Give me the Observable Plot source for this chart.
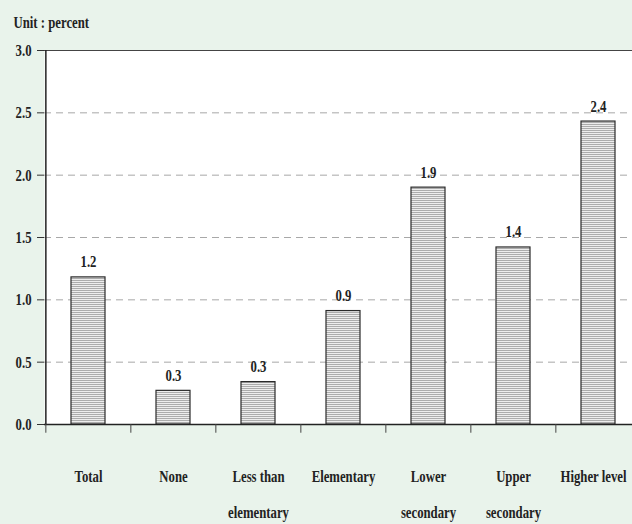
<!DOCTYPE html>
<html>
<head>
<meta charset="utf-8">
<script src="https://cdn.jsdelivr.net/npm/d3@7"></script>
<script src="https://cdn.jsdelivr.net/npm/@observablehq/plot@0.6"></script>
<style>
  html, body { margin: 0; padding: 0; background: #e9f3eb; }
  #chart { width: 632px; height: 524px; overflow: hidden; }
</style>
</head>
<body>
<div id="chart"></div>
<script>
const categories = ["Total", "None", "Less than elementary", "Elementary", "Lower secondary", "Upper secondary", "Higher level"];
const line1 = ["Total", "None", "Less than", "Elementary", "Lower", "Upper", "Higher level"];
const line2 = ["", "", "elementary", "", "secondary", "secondary", ""];
const values = [1.18, 0.27, 0.34, 0.91, 1.90, 1.42, 2.43];
const valueLabels = ["1.2", "0.3", "0.3", "0.9", "1.9", "1.4", "2.4"];
const yTicks = [0, 0.5, 1.0, 1.5, 2.0, 2.5, 3.0];
const gridTicks = [0.5, 1.0, 1.5, 2.0, 2.5];
const titleText = "Unit : percent";

const data = categories.map((c, i) => ({cat: c, value: values[i], label: valueLabels[i], l1: line1[i], l2: line2[i], last: i === categories.length - 1}));

const W = 632, H = 524, ML = 44, MT = 50, MB = 100;
const rangeEnd = 641;
const step = (rangeEnd - ML) / categories.length;

const chart = Plot.plot({
  width: W,
  height: H,
  marginLeft: ML,
  marginRight: 0,
  marginTop: MT,
  marginBottom: MB,
  style: {fontFamily: "Liberation Serif, Times New Roman, serif", fontSize: "17px", fontWeight: "bold", background: "#e9f3eb", color: "#222", overflow: "visible"},
  x: {domain: categories, range: [ML, rangeEnd], paddingInner: 0.6, paddingOuter: 0.3, axis: null},
  y: {domain: [0, 3], range: [H - MB, MT]},
  marks: [
    Plot.frame({fill: "white", stroke: "none"}),
    Plot.ruleY(gridTicks, {stroke: "#a8a8a8", strokeDasharray: "7,5", strokeWidth: 1}),
    Plot.barY(data, {x: "cat", y: "value", fill: "url(#hatch)", stroke: "#2a2a2a", strokeWidth: 1.2}),
    Plot.text(data, {x: "cat", y: "value", text: "label", lineAnchor: "bottom", dy: -10, fill: "#222"}),
    Plot.ruleY([3], {stroke: "#444", strokeWidth: 1.2}),
    Plot.ruleY([0], {stroke: "#222", strokeWidth: 1.5}),
    Plot.ruleX([categories[0]], {dx: -step / 2, y1: 0, y2: 3, stroke: "#222", strokeWidth: 1.5}),
    Plot.ruleX(categories, {dx: -step / 2, y1: 0, y2: -0.07, stroke: "#444", strokeWidth: 1}),
    Plot.axisY({ticks: yTicks, tickFormat: d3.format(".1f"), tickSize: 7, tickPadding: 6, label: null, stroke: "#333", fill: "#222"}),
    Plot.text(data.filter(d => !d.last), {x: "cat", y: 0, text: "l1", dy: 52, lineAnchor: "middle", fill: "#222"}),
    Plot.text(data.filter(d => d.last), {x: "cat", y: 0, text: "l1", dy: 52, dx: -5, lineAnchor: "middle", fill: "#222"}),
    Plot.text(data, {x: "cat", y: 0, text: "l2", dy: 88, lineAnchor: "middle", fill: "#222"}),
    Plot.text([titleText], {frameAnchor: "top-left", dx: -31, dy: -28, lineAnchor: "middle", textAnchor: "start", fill: "#222"})
  ]
});

const defs = d3.select(chart).insert("defs", ":first-child");
const pat = defs.append("pattern").attr("id", "hatch").attr("patternUnits", "userSpaceOnUse").attr("width", 4).attr("height", 2);
pat.append("rect").attr("width", 4).attr("height", 2).attr("fill", "#ededed");
pat.append("rect").attr("width", 4).attr("height", 1).attr("fill", "#acacac");

document.getElementById("chart").appendChild(chart);

// Condense text horizontally to match the narrow serif of the reference
d3.select(chart).selectAll("text").each(function() {
  const tspans = this.querySelectorAll("tspan");
  const targets = tspans.length ? Array.from(tspans) : [this];
  for (const t of targets) {
    const len = t.getComputedTextLength();
    if (len > 0) {
      t.setAttribute("textLength", (len * 0.75).toFixed(2));
      t.setAttribute("lengthAdjust", "spacingAndGlyphs");
    }
  }
});
</script>
</body>
</html>
